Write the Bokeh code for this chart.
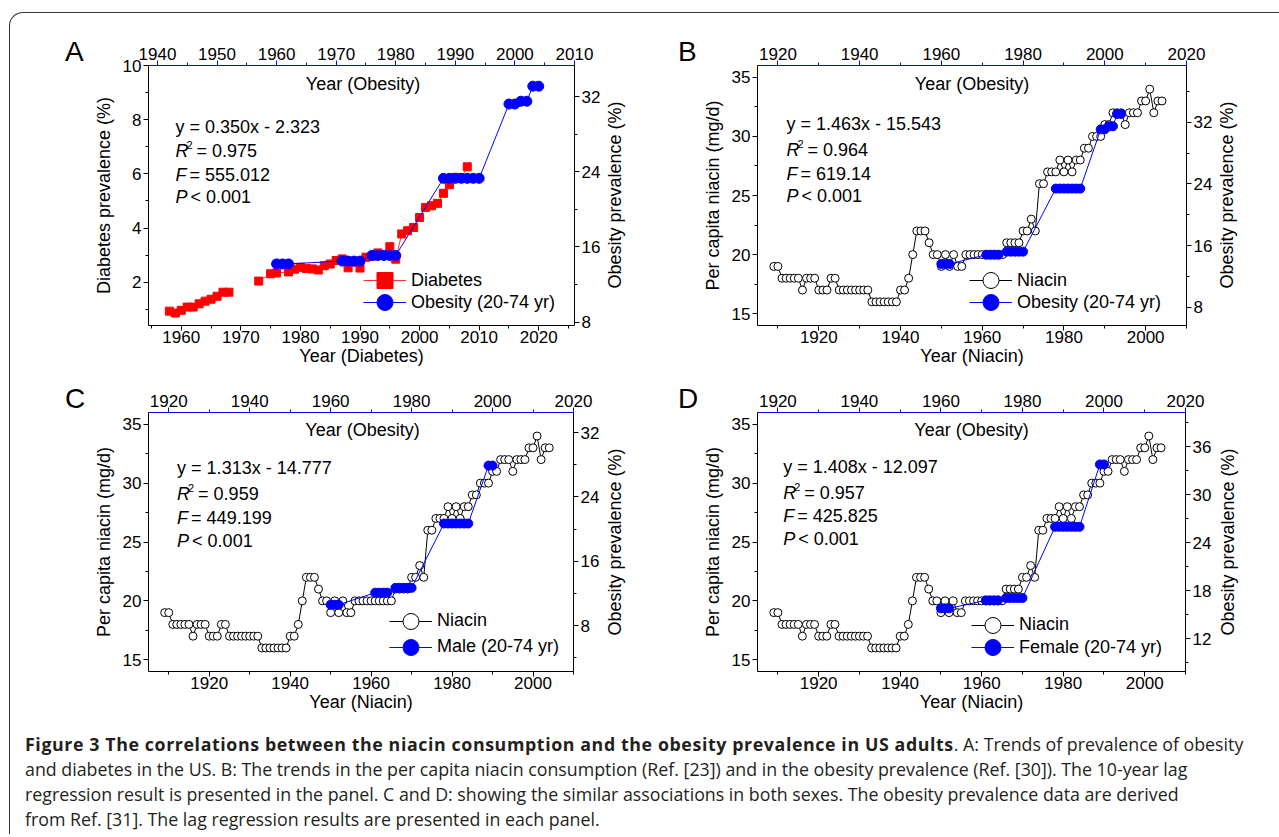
import math
from bokeh.plotting import figure
from bokeh.models import Range1d, LinearAxis, SingleIntervalTicker, Label, Legend, LegendItem, Div
from bokeh.layouts import column, row
from bokeh.embed import file_html
from bokeh.resources import INLINE

FONT = "Liberation Sans"
BLUE = "#0000ff"
RED = "#ff0000"

# ---------------- data ----------------
diabetes_years = [1958, 1959, 1960, 1961, 1962, 1963, 1964, 1965, 1966, 1967, 1968,
                  1973, 1975, 1976,
                  1978, 1979, 1980, 1981, 1982, 1983, 1984, 1985, 1986, 1987, 1988, 1989,
                  1990, 1991, 1992, 1993, 1994, 1995, 1996, 1997, 1998, 1999, 2000, 2001,
                  2002, 2003, 2004, 2005, 2006, 2007, 2008]
diabetes_pct = [0.93, 0.86, 0.96, 1.08, 1.08, 1.20, 1.30, 1.37, 1.48, 1.63, 1.63,
                2.04, 2.31, 2.34,
                2.38, 2.48, 2.55, 2.50, 2.49, 2.45, 2.61, 2.67, 2.80, 2.86, 2.53, 2.74,
                2.52, 2.92, 2.96, 3.08, 3.02, 3.31, 2.85, 3.78, 3.90, 4.02, 4.39, 4.76,
                4.82, 4.91, 5.28, 5.60, 5.87, 5.84, 6.26]

# survey periods (obesity); each year of a period is plotted with the period value
survey_start_all = [1960, 1971, 1976, 1988, 1999, 2001, 2003]
survey_end_all = [1962, 1974, 1980, 1994, 2000, 2002, 2004]
obesity_all_panelA = [14.2, 14.5, 15.1, 23.3, 31.2, 31.5, 33.1]
obesity_all_panelB = [13.6, 14.8, 15.2, 23.4, 31.1, 31.5, 33.1]
survey_start_sex = [1960, 1971, 1976, 1988, 1999]
survey_end_sex = [1962, 1974, 1980, 1994, 2000]
obesity_male = [10.6, 12.1, 12.7, 20.7, 27.9]
obesity_female = [15.8, 16.8, 17.1, 26.0, 33.8]

niacin_years = list(range(1909, 2005))
niacin_mg = [19, 19, 18, 18, 18, 18, 18, 17, 18, 18, 18, 17, 17, 17, 18, 18,
             17, 17, 17, 17, 17, 17, 17, 17, 16, 16, 16, 16, 16, 16, 16,
             17, 17, 18, 20, 22, 22, 22, 21, 20, 20,
             19, 20, 19, 20, 19, 19,
             20, 20, 20, 20, 20, 20, 20, 20, 20, 20,
             21, 21, 21, 21, 22, 22, 23, 22, 26, 26,
             27, 27, 27, 28, 27, 28, 27, 28, 28, 29, 29,
             30, 30, 30, 31, 31, 32, 32, 32, 31, 32, 32, 32,
             33, 33, 34, 32, 33, 33]

equations = ["y = 0.350x - 2.323", "y = 1.463x - 15.543", "y = 1.313x - 14.777", "y = 1.408x - 12.097"]
r2_values = ["0.975", "0.964", "0.959", "0.957"]
f_values = ["555.012", "619.14", "449.199", "425.825"]
p_text = "< 0.001"
panel_letters = ["A", "B", "C", "D"]


def expand(starts, ends, vals):
    xs, ys = [], []
    for s, e, v in zip(starts, ends, vals):
        for yr in range(s, e + 1):
            xs.append(yr)
            ys.append(v)
    return xs, ys


def segments(xs, ys, max_gap=2):
    sx, sy = [[xs[0]]], [[ys[0]]]
    for i in range(1, len(xs)):
        if xs[i] - xs[i - 1] > max_gap:
            sx.append([])
            sy.append([])
        sx[-1].append(xs[i])
        sy[-1].append(ys[i])
    return sx, sy


def style_axis(ax, color="black", major_standoff=1, label_standoff=0):
    ax.axis_line_color = color
    ax.axis_line_width = 1
    ax.major_tick_line_color = color
    ax.minor_tick_line_color = color
    ax.major_tick_in = 0
    ax.major_tick_out = 5
    ax.minor_tick_in = 0
    ax.minor_tick_out = 3
    ax.major_label_text_font = FONT
    ax.major_label_text_font_size = "17px"
    ax.major_label_text_color = "black"
    ax.major_label_standoff = major_standoff
    ax.axis_label_text_font = FONT
    ax.axis_label_text_font_size = "18px"
    ax.axis_label_text_font_style = "normal"
    ax.axis_label_text_color = "black"
    ax.axis_label_standoff = label_standoff


def txt(p, x, y, s, size="18px", style="normal", align="left", baseline="middle"):
    p.add_layout(Label(x=x, y=y, x_units="screen", y_units="screen", text=s,
                       text_font=FONT, text_font_size=size, text_font_style=style,
                       text_align=align, text_baseline=baseline, text_color="black"))


def build_panel(w, h, borders, x_rng, y_rng, xo_rng, yo_rng, x_step, y_step, yo_step,
                xlabel, ylabel):
    ml, mr, mt, mb = borders
    p = figure(width=w, height=h, x_range=Range1d(*x_rng), y_range=Range1d(*y_rng),
               output_backend="svg", toolbar_location=None,
               min_border_left=ml, min_border_right=mr, min_border_top=mt, min_border_bottom=mb)
    p.outline_line_color = None
    p.background_fill_color = "white"
    p.border_fill_color = "white"
    p.xgrid.visible = False
    p.ygrid.visible = False
    p.extra_x_ranges = {"ob": Range1d(*xo_rng)}
    p.extra_y_ranges = {"ob": Range1d(*yo_rng)}
    p.xaxis.ticker = SingleIntervalTicker(interval=x_step, num_minor_ticks=2)
    p.yaxis.ticker = SingleIntervalTicker(interval=y_step, num_minor_ticks=2)
    p.xaxis.axis_label = xlabel
    p.yaxis.axis_label = ylabel
    style_axis(p.xaxis[0], major_standoff=0, label_standoff=0)
    style_axis(p.yaxis[0], major_standoff=2, label_standoff=6)
    top = LinearAxis(x_range_name="ob", ticker=SingleIntervalTicker(interval=x_step, num_minor_ticks=2))
    style_axis(top, BLUE, major_standoff=1)
    p.add_layout(top, "above")
    right = LinearAxis(y_range_name="ob", ticker=SingleIntervalTicker(interval=yo_step, num_minor_ticks=2))
    style_axis(right, major_standoff=2)
    p.add_layout(right, "right")
    return p


def add_texts(p, k, fw, x0, ys, title_y):
    txt(p, fw / 2, title_y, "Year (Obesity)", align="center")
    txt(p, x0, ys[0], equations[k])
    txt(p, x0, ys[1], "R", style="italic")
    txt(p, x0 + 11, ys[1] + 6, "2", size="11px")
    txt(p, x0 + 21, ys[1], "= " + r2_values[k])
    txt(p, x0, ys[2], "F", style="italic")
    txt(p, x0 + 14, ys[2], "= " + f_values[k])
    txt(p, x0, ys[3], "P", style="italic")
    txt(p, x0 + 15, ys[3], p_text)


def add_legend_row(p, item, x, ycenter):
    lg = Legend(items=[item], location=(x, ycenter - 20), glyph_width=43, glyph_height=40,
                spacing=0, padding=0, margin=0, label_standoff=5, label_text_font=FONT,
                label_text_font_size="18px", label_text_color="black", label_height=40,
                background_fill_alpha=0, border_line_alpha=0)
    p.add_layout(lg)


def letter_div(letter, width, height, pad_left, pad_top):
    html = (f'<div style="font-family:\'Liberation Sans\',Arial,sans-serif;font-size:28px;'
            f'line-height:28px;padding-left:{pad_left}px;padding-top:{pad_top}px;color:black">'
            f'{letter}</div>')
    return Div(text=html, width=width, height=height, margin=0)


def right_label_div(width, height, cx, cy):
    html = (f'<div style="position:relative;width:{width}px;height:{height}px">'
            f'<div style="position:absolute;left:{cx}px;top:{cy}px;'
            'transform:translate(-50%,-50%) rotate(-90deg);white-space:nowrap;'
            'font-family:\'Liberation Sans\',Arial,sans-serif;font-size:18px;line-height:20px;color:black">'
            'Obesity prevalence (%)</div></div>')
    return Div(text=html, width=width, height=height, margin=0)


# ---------------- Panel A ----------------
pA = build_panel(514, 362, (55, 30, 52, 50), (1954.5, 2026), (0.4, 10), (1938.5, 2010), (7.65, 35.3),
                 10, 2, 8, "Year (Diabetes)", "Diabetes prevalence (%)")
dsx, dsy = segments(diabetes_years, diabetes_pct)
rA1 = pA.multi_line(dsx, dsy, line_color=RED, line_width=1, line_alpha=0.8)
rA2 = pA.scatter(diabetes_years, diabetes_pct, marker="square", size=8, fill_color=RED, line_color=RED)
oxA, oyA = expand(survey_start_all, survey_end_all, obesity_all_panelA)
rA3 = pA.line(oxA, oyA, line_color=BLUE, line_width=1, x_range_name="ob", y_range_name="ob")
rA4 = pA.scatter(oxA, oyA, marker="circle", size=10, fill_color=BLUE, line_color=BLUE,
                 x_range_name="ob", y_range_name="ob")
add_texts(pA, 0, 429, 27, [198.7, 174.4, 150.4, 128.4], 241.5)
add_legend_row(pA, LegendItem(label="Diabetes", renderers=[rA1, rA2]), 215, 44.6)
add_legend_row(pA, LegendItem(label="Obesity (20-74 yr)", renderers=[rA3, rA4]), 215, 23)


def niacin_panel(w, h, borders, yo_rng, yo_step, sx, sy, sv, label, k, fw, x0, ys, lx, rows):
    p = build_panel(w, h, borders, (1905, 2010), (14, 36), (1915, 2020), yo_rng,
                    20, 5, yo_step, "Year (Niacin)", "Per capita niacin (mg/d)")
    r1 = p.line(niacin_years, niacin_mg, line_color="black", line_width=1)
    r2 = p.scatter(niacin_years, niacin_mg, marker="circle", size=8, fill_color="white",
                   line_color="black", line_width=1)
    ox, oy = expand(sx, sy, sv)
    r3 = p.line(ox, oy, line_color=BLUE, line_width=1, x_range_name="ob", y_range_name="ob")
    r4 = p.scatter(ox, oy, marker="circle", size=9, fill_color=BLUE, line_color=BLUE,
                   x_range_name="ob", y_range_name="ob")
    add_texts(p, k, fw, x0, ys, 241.5)
    add_legend_row(p, LegendItem(label="Niacin", renderers=[r1, r2]), lx, rows[0])
    add_legend_row(p, LegendItem(label=label, renderers=[r3, r4]), lx, rows[1])
    return p


pB = niacin_panel(518, 362, (59, 30, 52, 50), (5.6, 39.4), 8, survey_start_all, survey_end_all,
                  obesity_all_panelB, "Obesity (20-74 yr)", 1, 429, 29,
                  [202, 176, 151.7, 129.4], 212, (45, 23))
pC = niacin_panel(513, 347, (55, 30, 37, 51), (2.3, 34.5), 8, survey_start_sex, survey_end_sex,
                  obesity_male, "Male (20-74 yr)", 2, 428, 28.6,
                  [203.2, 177.2, 153.8, 130.5], 241, (50.2, 24.4))
pD = niacin_panel(517, 347, (59, 30, 37, 51), (7.9, 40.3), 6, survey_start_sex, survey_end_sex,
                  obesity_female, "Female (20-74 yr)", 3, 428, 25.7,
                  [204.7, 179, 155.7, 132.4], 214, (46.3, 24))

row1 = row(letter_div(panel_letters[0], 80, 362, 55, 25), pA, right_label_div(36, 362, 11, 182),
           letter_div(panel_letters[1], 58, 362, 38, 25), pB, right_label_div(63, 362, 11, 182))
row2 = row(letter_div(panel_letters[2], 80, 347, 55, 10), pC, right_label_div(37, 347, 12, 166.5),
           letter_div(panel_letters[3], 58, 347, 38, 10), pD, right_label_div(64, 347, 13, 166.5))

caption_html = (
    '<div style="font-family:\'Open Sans\';font-size:17.8px;line-height:25px;color:#231f20;'
    'white-space:nowrap;padding-left:15px;padding-top:10px">'
    '<b style="letter-spacing:0.6px">Figure 3 The correlations between the niacin consumption and the '
    'obesity prevalence in US adults</b>'
    '. A: Trends of prevalence of obesity<br>'
    'and diabetes in the US. B: The trends in the per capita niacin consumption (Ref. [23]) and in the '
    'obesity prevalence (Ref. [30]). The 10-year lag<br>'
    'regression result is presented in the panel. C and D: showing the similar associations in both sexes. '
    'The obesity prevalence data are derived<br>'
    'from Ref. [31]. The lag regression results are presented in each panel.'
    '</div>'
)
caption = Div(text=caption_html, width=1269, height=112, margin=0)

layout = column(row1, row2, caption,
                styles={"margin-left": "9px", "margin-top": "12px",
                        "border-top": "1px solid #333", "border-left": "1px solid #333",
                        "border-top-left-radius": "14px"})

open("out.html", "w").write(file_html(layout, INLINE))
